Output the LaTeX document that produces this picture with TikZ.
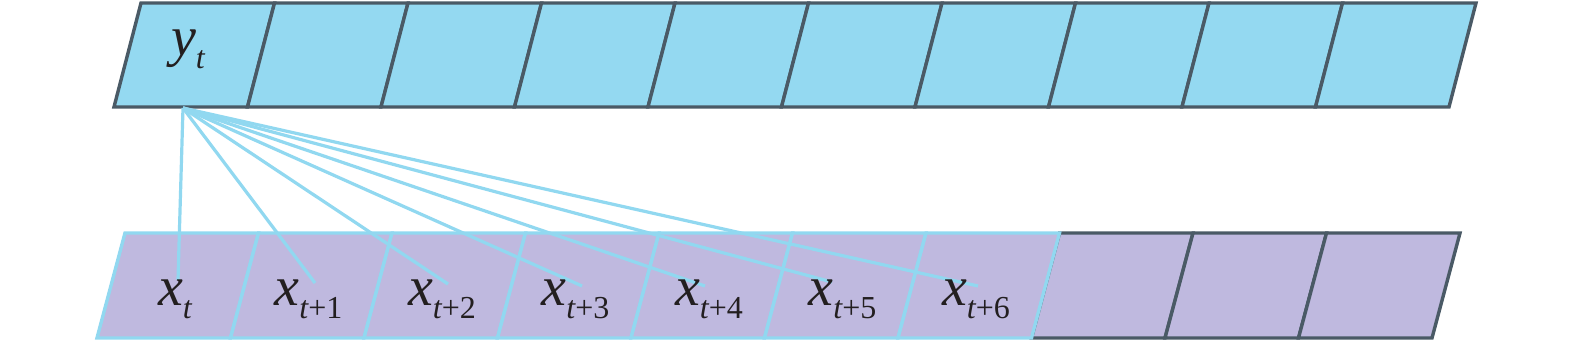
\documentclass[tikz,border=0pt]{standalone}
\usepackage{fontspec}
\setmainfont{Liberation Serif}

\definecolor{cellBlue}{RGB}{148,217,241}
\definecolor{cellPurple}{RGB}{191,185,223}
\definecolor{edgeGrey}{RGB}{74,90,102}
\definecolor{linkBlue}{RGB}{145,216,240}
\definecolor{inkBlack}{RGB}{35,31,32}

% letter with a subscript t (+ offset)
\newcommand{\seqlab}[2]{{\fontsize{28}{28}\selectfont\itshape #1}\raisebox{-6.5pt}{\fontsize{16}{16}\selectfont\itshape t\upshape #2}}

\begin{document}
\begin{tikzpicture}[
  x=0.5pt, y=-0.5pt,
  outcell/.style={fill=cellBlue, draw=edgeGrey, line width=1.7pt},
  incell/.style={fill=cellPurple, draw=edgeGrey, line width=1.7pt},
  usedcell/.style={fill=cellPurple, draw=linkBlue, line width=1.7pt},
  link/.style={draw=linkBlue, line width=1.6pt},
  lab/.style={anchor=base, inner sep=0pt, text=inkBlack}
]
\useasboundingbox (0,0) rectangle (1575,342);

% Output row
\foreach \i in {0,...,9} {
  \draw[outcell] ({114+133.5*\i},107) -- ({141+133.5*\i},3) -- ({141+133.5*(\i+1)},3) -- ({114+133.5*(\i+1)},107) -- cycle;
}

% Input row: cells not reached
\foreach \i in {7,8,9} {
  \draw[incell] ({97+133.5*\i},338) -- ({125+133.5*\i},233) -- ({125+133.5*(\i+1)},233) -- ({97+133.5*(\i+1)},338) -- cycle;
}
% Input row: cells reached from y_t
\foreach \i in {0,...,6} {
  \draw[usedcell] ({97+133.5*\i},338) -- ({125+133.5*\i},233) -- ({125+133.5*(\i+1)},233) -- ({97+133.5*(\i+1)},338) -- cycle;
}

% Link ends
\coordinate (src) at (183,108);
\coordinate (e0) at (178,280);
\coordinate (e1) at (315,283);
\coordinate (e2) at (448,284);
\coordinate (e3) at (582,286);
\coordinate (e4) at (705,286);
\coordinate (e5) at (832,282);
\coordinate (e6) at (978,286);

\foreach \k in {0,...,6} {
  \draw[link] (src) -- (e\k);
}

% Labels
\node[lab] (yt) at (188,56) {\seqlab{y}{}};
\node[lab] (x0) at (175,305) {\seqlab{x}{}};
\foreach \k in {1,...,6} {
  \node[lab] (x\k) at ({175+133.5*\k},305) {\seqlab{x}{+\k}};
}

\end{tikzpicture}
\end{document}
